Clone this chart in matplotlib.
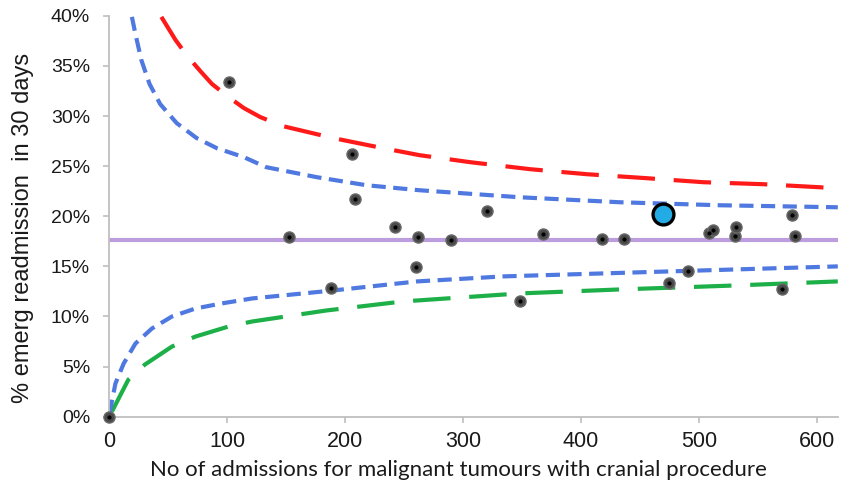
import matplotlib
matplotlib.use("Agg")
import matplotlib.pyplot as plt
from matplotlib.ticker import FuncFormatter

# trust values (x = admissions, y = % readmitted)
admissions = [0, 101, 152, 188, 206, 208, 242, 260, 262, 290, 320, 348,
              368, 418, 437, 475, 491, 509, 512, 531, 532, 571, 579, 582]
readmit_pct = [0, 33.4, 17.9, 12.8, 26.2, 21.7, 18.9, 14.9, 17.9, 17.6, 20.5, 11.5,
               18.2, 17.7, 17.7, 13.3, 14.5, 18.3, 18.6, 18.0, 18.9, 12.7, 20.1, 18.0]

# the highlighted trust
highlight_n = [470]
highlight_pct = [20.2]

# national average
mean_pct = 17.6

# control limits
upper95_n = [19, 22, 27, 34, 43, 57, 74, 91, 114, 133, 176, 218, 263, 348, 433, 518, 618]
upper95_pct = [39.9, 38.2, 35.6, 33.2, 31.2, 29.3, 27.8, 26.8, 25.9, 24.9, 23.9, 23.1,
               22.6, 21.9, 21.4, 21.1, 20.9]

upper998_n = [44, 56, 66, 77, 87, 101, 114, 128, 147, 190, 232, 263, 306, 357, 405,
              456, 504, 555, 618]
upper998_pct = [39.9, 37.6, 36.0, 34.5, 33.2, 31.9, 30.8, 29.9, 29.0, 27.8, 26.8, 26.1,
                25.4, 24.7, 24.2, 23.8, 23.4, 23.2, 22.8]

lower95_n = [0, 5, 12, 22, 36, 53, 73, 95, 121, 147, 190, 261, 334, 419, 504, 618]
lower95_pct = [0.3, 3.3, 5.3, 7.3, 8.8, 10.0, 10.8, 11.3, 11.8, 12.1, 12.6, 13.5, 14.0,
               14.3, 14.6, 15.0]

lower998_n = [2, 16, 30, 53, 73, 101, 121, 184, 249, 348, 433, 532, 618]
lower998_pct = [0.5, 3.7, 5.2, 7.0, 8.0, 9.0, 9.5, 10.6, 11.5, 12.3, 12.7, 13.1, 13.5]


fig = plt.figure(figsize=(8.41, 4.9), dpi=100)
ax = fig.add_axes([0.1302, 0.1496, 0.866, 0.818])

ax.axhline(mean_pct, color="#BC9EDE", lw=3, zorder=1)

ax.plot(upper998_n, upper998_pct, color="#FF1A1A", lw=3, dashes=(9, 4.5), zorder=2)
ax.plot(lower998_n, lower998_pct, color="#1DAF48", lw=3, dashes=(9, 4.5), zorder=2)
ax.plot(upper95_n, upper95_pct, color="#4F79E0", lw=3, dashes=(3.4, 1.8), zorder=2)
ax.plot(lower95_n, lower95_pct, color="#4F79E0", lw=3, dashes=(3.4, 1.8), zorder=2)

# grey blobs with a black centre
ax.plot(admissions, readmit_pct, "o", ms=8, color="#4a4a4a", mec="#6a6a6a",
        mew=1, zorder=4, clip_on=False)
ax.plot(admissions, readmit_pct, "o", ms=2, color="black", zorder=5, clip_on=False)

ax.plot(highlight_n, highlight_pct, "o", ms=15, color="#22ABE4", mec="black",
        mew=2.4, zorder=6)

ax.set_xlim(0, 618)
ax.set_ylim(0, 40)
ax.set_xticks(range(0, 601, 100))
ax.set_yticks(range(0, 41, 5))
ax.yaxis.set_major_formatter(FuncFormatter(lambda v, pos: "%d%%" % v))

for side in ["top", "right"]:
    ax.spines[side].set_visible(False)
for side in ["left", "bottom"]:
    ax.spines[side].set_color("#BFBFBF")
    ax.spines[side].set_linewidth(1.3)

ax.tick_params(axis="both", colors="#BFBFBF", length=4, width=1.2)
ax.tick_params(axis="y", labelcolor="#1a1a1a", labelsize=14, pad=10)
ax.tick_params(axis="x", labelcolor="#1a1a1a", labelsize=15.5, pad=6)
for lbl in ax.get_xticklabels() + ax.get_yticklabels():
    lbl.set_family("Liberation Sans")

fig.text(150 / 841, 0.02, "No of admissions for malignant tumours with cranial procedure",
         ha="left", va="bottom", fontsize=16, family="Lato", color="#1a1a1a")
fig.text(23 / 841, 1 - 228 / 490, "% emerg readmission  in 30 days",
         rotation=90, ha="center", va="center", fontsize=17,
         family="Liberation Sans", color="#1a1a1a")

fig.savefig("out.png", dpi=100)
